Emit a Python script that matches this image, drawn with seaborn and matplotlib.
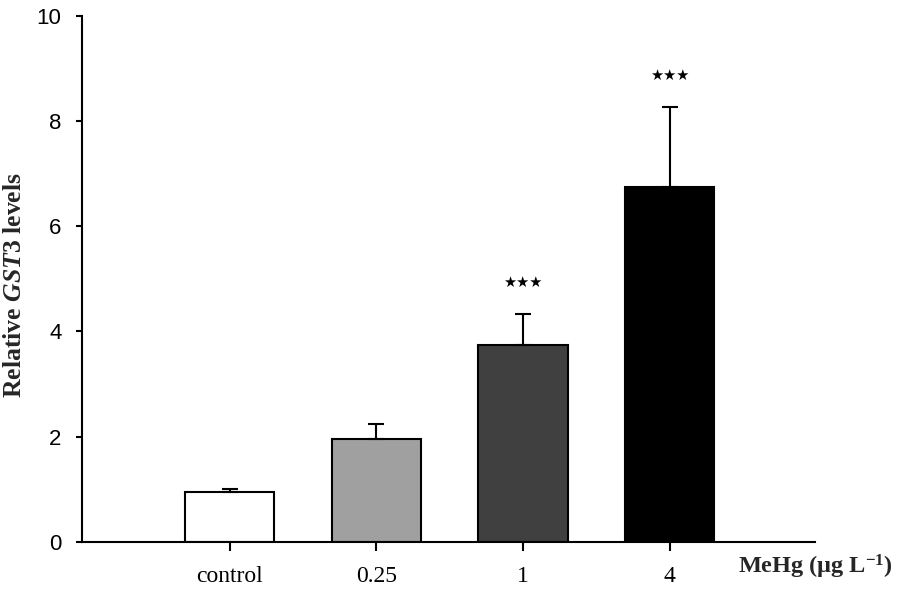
import numpy as np
import pandas as pd
import matplotlib
matplotlib.use("Agg")
import matplotlib.pyplot as plt
import seaborn as sns

# ── data ─────────────────────────────────────────────────
groups = ["control", "0.25", "1", "4"]
means  = [0.95, 1.95, 3.74, 6.75]
errs   = [0.05, 0.28, 0.60, 1.52]
stars  = ["", "", "***", "***"]
colors = ["#ffffff", "#a0a0a0", "#404040", "#000000"]

sns.set_style("ticks")
plt.rcParams["mathtext.fontset"] = "custom"
plt.rcParams["mathtext.rm"] = "Liberation Serif:bold"
plt.rcParams["mathtext.it"] = "Liberation Serif:italic:bold"
plt.rcParams["mathtext.bf"] = "Liberation Serif:bold"

df = pd.DataFrame({"group": groups, "value": means})

fig = plt.figure(figsize=(9.03, 5.94), dpi=100)
ax = fig.add_axes([0.0903, 0.088, 0.8122, 0.885])

sns.barplot(data=df, x="group", y="value", hue="group", palette=colors,
            order=groups, hue_order=groups, edgecolor="black", linewidth=1.5,
            width=0.61, errorbar=None, legend=False, ax=ax)

xs = np.arange(len(groups))
ax.errorbar(xs, means, yerr=[np.zeros(len(errs)), errs], fmt="none",
            ecolor="black", elinewidth=1.5, capsize=6, capthick=1.5, zorder=1)

# significance marks above the error bars
for x, m, e, s in zip(xs, means, errs, stars):
    if s:
        ax.text(x, m + e + 0.6, "★★★", ha="center", va="center",
                fontsize=10.5, family="DejaVu Sans", color="black")

ax.set_xlim(-1.01, 3.99)
ax.set_ylim(0, 10)
ax.set_yticks([0, 2, 4, 6, 8, 10])
sns.despine(ax=ax)
for sp in ["left", "bottom"]:
    ax.spines[sp].set_linewidth(1.5)
    ax.spines[sp].set_color("black")

ax.tick_params(axis="y", length=4.5, width=1.5, pad=10, labelsize=16, colors="black")
ax.tick_params(axis="x", length=6.5, width=1.5, pad=11, labelsize=17, colors="black")
for lab in ax.get_yticklabels():
    lab.set_family("Liberation Sans")
for lab in ax.get_xticklabels():
    lab.set_family("Liberation Serif")

ax.set_xlabel("")
ax.set_ylabel(r"Relative $\mathit{GST3}$ levels", family="Liberation Serif",
              fontweight="bold", fontsize=18.5)
ax.yaxis.set_label_coords(-0.076, 0.488)

fig.text(738 / 903, 1 - 567 / 594, r"MeHg (μg L$^{\mathbf{-1}}$)",
         family="Liberation Serif", fontweight="bold", fontsize=17.5,
         ha="left", va="center")

fig.savefig("out.png", dpi=100, facecolor="white")
